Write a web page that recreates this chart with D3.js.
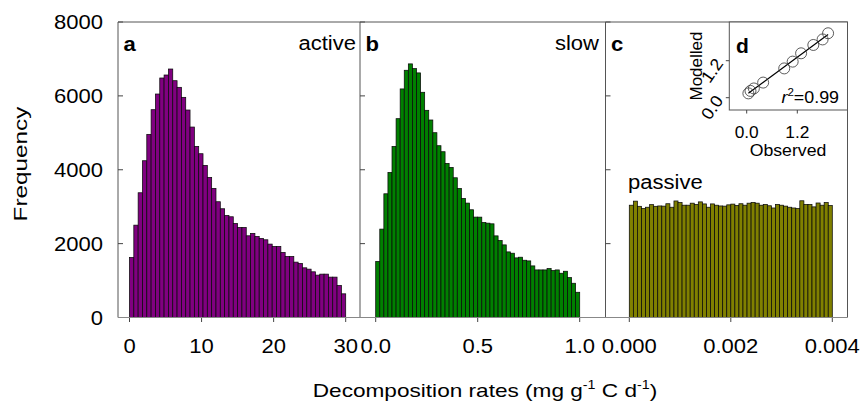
<!DOCTYPE html>
<html><head><meta charset="utf-8">
<script src="https://cdn.jsdelivr.net/npm/d3@7"></script>
<style>
html,body{margin:0;padding:0;background:#fff;}
svg{display:block;font-family:Arial,"Liberation Sans",Helvetica,sans-serif;}
</style></head>
<body>
<svg id="chart" width="861" height="407"></svg>
<script>
// ---- data ----
const activeCounts = [1625,2500,3377,4244,4958,5626,6050,6484,6565,6727,6411,6231,5960,5617,5156,4632,4434,4118,3793,3495,3134,2944,2763,2727,2546,2438,2438,2212,2276,2194,2140,2104,1987,1923,1923,1760,1652,1652,1499,1463,1345,1309,1237,1147,1174,1174,1093,1093,867,641];
const slowCounts = [1517,2393,3349,3927,4632,5383,6188,6693,6866,6739,6622,6097,5609,5347,5003,4651,4488,4172,4063,3783,3494,3224,3097,2917,2718,2717,2572,2554,2536,2210,2084,1966,1776,1740,1614,1632,1550,1532,1397,1288,1288,1288,1324,1270,1288,1198,1252,1080,927,683];
const passiveCounts = [3040,3150,3010,2950,2985,3055,3010,3020,3015,3080,2985,3155,3110,3040,3040,3095,3060,3130,3075,2985,3075,3040,3020,3015,3050,3070,3035,3080,3040,3095,3115,3095,3040,3060,3025,2965,3060,3040,3015,2985,2965,2950,3160,3060,3060,2995,3100,3040,3110,3030];
const activeRange = [0, 30], slowRange = [0, 1], passiveRange = [0, 0.004];
const freqTicks = [0, 2000, 4000, 6000, 8000];
const activeTicks = [0, 10, 20, 30];
const slowTicks = [0, 0.5, 1.0];
const passiveTicks = [0, 0.002, 0.004];
const observed = [0.04,0.09,0.17,0.39,0.89,1.09,1.29,1.58,1.80,1.93];
const modelled = [0.14,0.22,0.30,0.49,0.95,1.17,1.44,1.71,1.89,2.09];
const insetTicks = [0, 1.2];
const r2Label = "0.99";

// ---- layout ----
const svg = d3.select("#chart");
const FONT = 19.5, SX = 1.13;
const plotTop = 22, plotBottom = 317.5;
const y = d3.scaleLinear().domain([0, 8000]).range([plotBottom, plotTop]);
const panels = [
  {name:"a", tag:"active", counts:activeCounts, range:activeRange, ticks:activeTicks, left:118, right:360, px:[129.5,345.7], color:"#800080", fmt:d3.format("d")},
  {name:"b", tag:"slow", counts:slowCounts, range:slowRange, ticks:slowTicks, left:360, right:605.5, px:[375.7,579.7], color:"#008000", fmt:d3.format(".1f")},
  {name:"c", tag:"passive", counts:passiveCounts, range:passiveRange, ticks:passiveTicks, left:605.5, right:847.5, px:[629.3,832.3], color:"#808000", fmt:d3.format(".3f")}
];

function label(parent, x, yy, str, o = {}) {
  const g = parent.append("g").attr("transform",
    `translate(${x},${yy})` + (o.rot ? ` rotate(${o.rot})` : "") + ` scale(${o.sx ?? SX},1)`);
  const t = g.append("text").attr("x",0).attr("y",0)
    .attr("font-size", o.size ?? FONT)
    .attr("text-anchor", o.anchor ?? "middle")
    .attr("fill", "#000");
  if (o.weight) t.attr("font-weight", o.weight);
  if (o.dy) t.attr("dy", o.dy);
  t.text(str);
  return t;
}

panels.forEach(p => {
  const x = d3.scaleLinear().domain(p.range).range(p.px);
  const n = p.counts.length;
  const bw = (p.range[1] - p.range[0]) / n;
  const g = svg.append("g");
  g.selectAll("rect").data(p.counts).join("rect")
    .attr("x", (d,i) => x(p.range[0] + i*bw))
    .attr("width", (d,i) => x(p.range[0] + (i+1)*bw) - x(p.range[0] + i*bw))
    .attr("y", d => y(d))
    .attr("height", d => y(0) - y(d))
    .attr("fill", p.color)
    .attr("stroke", "#0a0a0a")
    .attr("stroke-width", 0.75);
  g.selectAll("line.xt").data(p.ticks).join("line").attr("class","xt")
    .attr("x1", d => x(d)).attr("x2", d => x(d))
    .attr("y1", plotBottom).attr("y2", plotBottom + 4.5)
    .attr("stroke", "#444").attr("stroke-width", 1);
  p.ticks.forEach(t => label(svg, x(t), 353, p.fmt(t)));
  g.append("line").attr("x1", p.left).attr("x2", p.left).attr("y1", plotTop).attr("y2", plotBottom)
    .attr("stroke", "#555").attr("stroke-width", 1);
  g.selectAll("line.yt").data(freqTicks).join("line").attr("class","yt")
    .attr("x1", p.left).attr("x2", p.left + 5)
    .attr("y1", d => y(d)).attr("y2", d => y(d))
    .attr("stroke", "#444").attr("stroke-width", 1);
  label(svg, p.left + 5.5, 51, p.name, {anchor:"start", weight:"bold", size:21, sx:1.05});
});
svg.append("line").attr("x1",118).attr("x2",847.5).attr("y1",plotTop).attr("y2",plotTop).attr("stroke","#555");
svg.append("line").attr("x1",847.5).attr("x2",847.5).attr("y1",plotTop).attr("y2",plotBottom).attr("stroke","#555");
svg.append("line").attr("x1",118).attr("x2",847.5).attr("y1",plotBottom).attr("y2",plotBottom).attr("stroke","#888").attr("stroke-width",1.2);

label(svg, 356, 50, "active", {anchor:"end"});
label(svg, 599, 50, "slow", {anchor:"end"});
label(svg, 628, 189, "passive", {anchor:"start"});

freqTicks.forEach(t => label(svg, 103, y(t), d3.format("d")(t), {anchor:"end", dy:"0.36em"}));
label(svg, 27, 164, "Frequency", {rot:-90, sx:1.28, size:19});
const xt = label(svg, 485, 397, "", {size:19, sx:1.19});
xt.append("tspan").text("Decomposition rates (mg g");
xt.append("tspan").attr("font-size", 12).attr("dy", -8).text("-1");
xt.append("tspan").attr("dy", 8).text(" C d");
xt.append("tspan").attr("font-size", 12).attr("dy", -8).text("-1");
xt.append("tspan").attr("dy", 8).text(")");

// ---- inset d ----
const ix = d3.scaleLinear().domain([0, 1.2]).range([746.7, 797.3]);
const iy = d3.scaleLinear().domain([0, 1.2]).range([97.7, 60.7]);
const ins = svg.append("g");
ins.append("rect").attr("x",729.3).attr("y",plotTop).attr("width",847.5-729.3).attr("height",110-plotTop)
  .attr("fill","#fff").attr("stroke","#555").attr("stroke-width",1);
insetTicks.forEach(t => {
  ins.append("line").attr("x1",ix(t)).attr("x2",ix(t)).attr("y1",110).attr("y2",113.5).attr("stroke","#444");
  ins.append("line").attr("x1",729.3).attr("x2",725.8).attr("y1",iy(t)).attr("y2",iy(t)).attr("stroke","#444");
  label(svg, ix(t), 137.5, d3.format(".1f")(t), {size:16.5, sx:1.05});
  label(svg, 724, iy(t) + 3, d3.format(".1f")(t), {size:17, sx:1.05, anchor:"end", rot:-55});
});
label(svg, 788, 155.5, "Observed", {size:17, sx:1.04});
label(svg, 701.5, 66, "Modelled", {size:17, sx:1.0, rot:-90});
label(svg, 736, 53, "d", {anchor:"start", weight:"bold", size:20, sx:1.05});
const mx = d3.mean(observed), my = d3.mean(modelled);
const slope = d3.sum(observed.map((o,i)=>(o-mx)*(modelled[i]-my))) / d3.sum(observed.map(o=>(o-mx)**2));
const icpt = my - slope*mx;
const [x0, x1] = d3.extent(observed);
ins.append("line").attr("x1", ix(x0)).attr("y1", iy(icpt + slope*x0))
  .attr("x2", ix(x1)).attr("y2", iy(icpt + slope*x1))
  .attr("stroke","#000").attr("stroke-width",1.2);
ins.selectAll("circle").data(observed).join("circle")
  .attr("cx", d => ix(d)).attr("cy", (d,i) => iy(modelled[i]))
  .attr("r", 5.5).attr("fill","none").attr("stroke","#333").attr("stroke-width",0.8);
const rt = label(svg, 839, 103, "", {anchor:"end", size:17, sx:1.05});
rt.append("tspan").attr("font-style","italic").text("r");
rt.append("tspan").attr("font-size",11).attr("dy",-7).text("2");
rt.append("tspan").attr("dy",7).text("=" + r2Label);
</script>
</body></html>
